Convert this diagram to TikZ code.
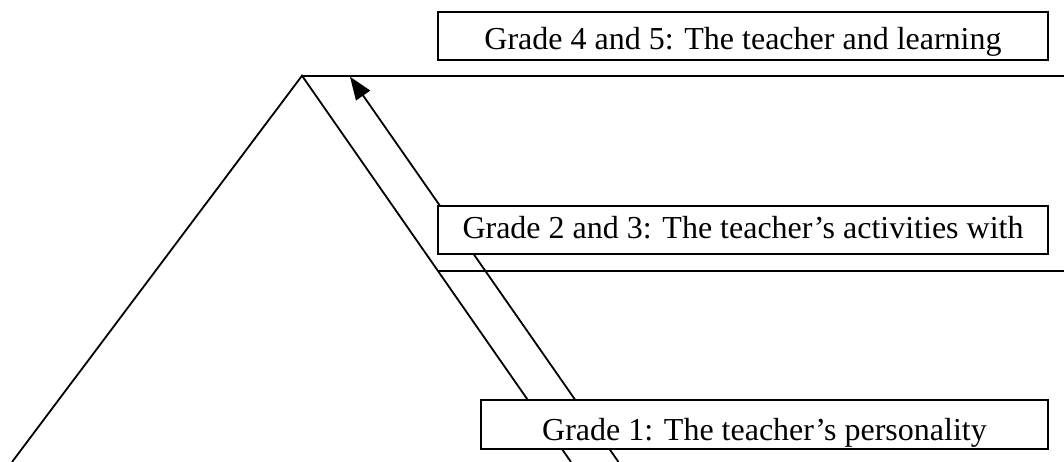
\documentclass[tikz,border=0pt]{standalone}
\usepackage{fontspec}
\setmainfont{Liberation Serif}
\usetikzlibrary{arrows.meta}
\begin{document}
\begin{tikzpicture}[x=1pt,y=-1pt,
  gradebox/.style={draw, line width=2.2pt, fill=white, inner sep=0pt, font=\fontsize{32}{36}\selectfont, align=center},
  edge/.style={line width=1.8pt},
]
\useasboundingbox (0,0) rectangle (1064,462);
\coordinate (apex) at (302,75.7);
\coordinate (leftfoot) at (12,462);
\coordinate (rightfoot) at (571,462);
\coordinate (topend) at (1064,75.7);
\coordinate (midstart) at (438,270.7);
\coordinate (midend) at (1064,270.7);
\coordinate (arrowfoot) at (618.5,462);
\coordinate (arrowtip) at (350,76.7);
\draw[edge] (leftfoot) -- (apex) -- (rightfoot);
\draw[edge, line width=2.2pt] (apex) -- (topend);
\draw[edge] (midstart) -- (midend);
\draw[edge, -{Triangle[length=23pt,width=17pt]}] (arrowfoot) -- (arrowtip);
\node[gradebox, minimum width=610pt, text height=38pt, text depth=10pt] (g45) at (743,36) {Grade 4 and 5: The teacher and learning};
\node[gradebox, minimum width=610pt, text height=32pt, text depth=16pt] (g23) at (743,230) {Grade 2 and 3: The teacher’s activities with};
\node[gradebox, minimum width=567pt, text height=40pt, text depth=9pt] (g1) at (764.5,424.5) {Grade 1: The teacher’s personality};
\end{tikzpicture}
\end{document}
